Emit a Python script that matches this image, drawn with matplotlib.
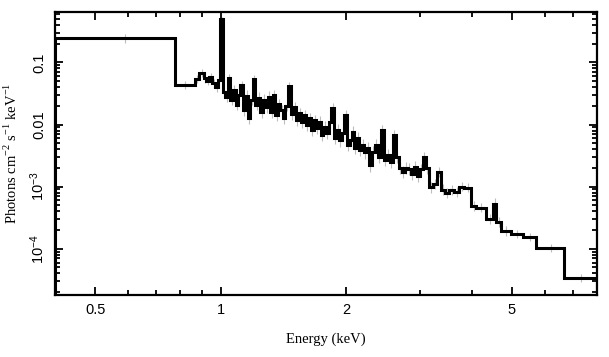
import matplotlib
matplotlib.use("Agg")
import matplotlib.pyplot as plt
from matplotlib.ticker import FixedLocator, NullFormatter

# Spectrum bins (keV) and unfolded flux (photons cm^-2 s^-1 keV^-1)
edges = [0.40, 0.778, 0.865, 0.889, 0.909, 0.924, 0.939, 0.955, 0.971, 0.987,
         0.998, 1.012, 1.026, 1.041, 1.055, 1.070, 1.085, 1.100, 1.115, 1.131,
         1.146, 1.162, 1.178, 1.195, 1.211, 1.228, 1.245, 1.263, 1.280, 1.298,
         1.316, 1.335, 1.353, 1.372, 1.391, 1.410, 1.430, 1.450, 1.474, 1.495,
         1.516, 1.537, 1.558, 1.580, 1.602, 1.624, 1.647, 1.670, 1.693, 1.716,
         1.740, 1.764, 1.789, 1.814, 1.839, 1.870, 1.896, 1.922, 1.949, 1.976,
         2.009, 2.037, 2.060, 2.089, 2.118, 2.147, 2.177, 2.207, 2.238, 2.269,
         2.301, 2.339, 2.379, 2.418, 2.459, 2.500, 2.542, 2.584, 2.627, 2.671,
         2.716, 2.761, 2.807, 2.854, 2.902, 2.951, 3.000, 3.050, 3.101, 3.153,
         3.224, 3.296, 3.369, 3.444, 3.540, 3.638, 3.741, 3.846, 3.99, 4.10,
         4.34, 4.50, 4.58, 4.71, 4.98, 5.31, 5.72, 6.68, 8.0]

flux = [0.246, 0.043, 0.054, 0.067, 0.056, 0.050, 0.058, 0.046, 0.040, 0.052,
        0.50, 0.033, 0.028, 0.056, 0.025, 0.036, 0.021, 0.030, 0.043, 0.017,
        0.029, 0.0127, 0.025, 0.054, 0.021, 0.027, 0.016, 0.025, 0.019, 0.028,
        0.016, 0.030, 0.0142, 0.0214, 0.0171, 0.0127, 0.020, 0.0415, 0.0147, 0.019,
        0.0118, 0.0152, 0.0110, 0.0142, 0.0098, 0.0127, 0.0082, 0.0118, 0.0088, 0.0110,
        0.0068, 0.0091, 0.0073, 0.0110, 0.0184, 0.0061, 0.0082, 0.0056, 0.0073, 0.0142,
        0.0047, 0.0056, 0.0076, 0.0042, 0.0061, 0.0039, 0.0047, 0.0036, 0.0042, 0.0022,
        0.0036, 0.0047, 0.0030, 0.0082, 0.0027, 0.0032, 0.0025, 0.0068, 0.0030, 0.0020,
        0.0017, 0.0020, 0.0019, 0.0016, 0.0021, 0.0015, 0.0019, 0.0030, 0.0020, 0.00097,
        0.0011, 0.0017, 0.00089, 0.00079, 0.00089, 0.00083, 0.0010, 0.00096, 0.00049, 0.00046,
        0.00030, 0.00053, 0.00027, 0.000194, 0.000174, 0.000156, 0.000104, 3.4e-5]

# fractional 1-sigma errors per bin
rel_err = [0.18, 0.16, 0.17, 0.16, 0.18, 0.17, 0.18, 0.17, 0.18, 0.17,
           0.08, 0.22, 0.22, 0.18, 0.22, 0.20, 0.23, 0.22, 0.18, 0.23,
           0.22, 0.25, 0.22, 0.18, 0.23, 0.22, 0.25, 0.22, 0.23, 0.22,
           0.25, 0.22, 0.25, 0.22, 0.23, 0.25, 0.22, 0.18, 0.25, 0.23,
           0.25, 0.23, 0.25, 0.23, 0.25, 0.23, 0.27, 0.23, 0.25, 0.23,
           0.27, 0.25, 0.25, 0.23, 0.20, 0.27, 0.25, 0.27, 0.25, 0.20,
           0.27, 0.25, 0.23, 0.27, 0.25, 0.27, 0.25, 0.27, 0.25, 0.28,
           0.25, 0.23, 0.25, 0.20, 0.27, 0.25, 0.27, 0.20, 0.25, 0.25,
           0.25, 0.23, 0.25, 0.25, 0.23, 0.25, 0.23, 0.20, 0.23, 0.23,
           0.22, 0.20, 0.22, 0.20, 0.20, 0.20, 0.19, 0.19, 0.20, 0.19,
           0.20, 0.22, 0.22, 0.19, 0.17, 0.17, 0.16, 0.16]

xticks = [0.5, 1, 2, 5]
xtick_labels = ["0.5", "1", "2", "5"]
yticks = [1e-4, 1e-3, 0.01, 0.1]
ytick_labels = [r"$\mathsf{10^{-4}}$", r"$\mathsf{10^{-3}}$", "0.01", "0.1"]

plt.rcParams["mathtext.fontset"] = "custom"
plt.rcParams["mathtext.rm"] = "Liberation Serif"
plt.rcParams["mathtext.sf"] = "Liberation Sans"
plt.rcParams["font.family"] = "Liberation Sans"

fig = plt.figure(figsize=(6.09, 3.57), dpi=100)
ax = fig.add_axes([0.0903, 0.1737, 0.8900, 0.7927])

centers = [(edges[i] + edges[i + 1]) / 2 for i in range(len(flux))]
lo = [f - f / (1 + e) for f, e in zip(flux, rel_err)]
hi = [f * e for f, e in zip(flux, rel_err)]
ax.errorbar(centers, flux, yerr=[lo, hi], fmt="none", ecolor="#bdbdbd",
            elinewidth=0.8, capsize=0, zorder=1)
ax.stairs(flux, edges, color="black", linewidth=2.2, zorder=2)

ax.set_xscale("log")
ax.set_yscale("log")
ax.set_xlim(0.4, 8.0)
ax.set_ylim(1.8e-5, 0.65)

ax.xaxis.set_major_locator(FixedLocator(xticks))
ax.set_xticklabels(xtick_labels)
ax.xaxis.set_minor_locator(FixedLocator([0.4, 0.6, 0.7, 0.8, 0.9, 3, 4, 6, 7, 8]))
ax.xaxis.set_minor_formatter(NullFormatter())
ax.yaxis.set_major_locator(FixedLocator(yticks))
ax.set_yticklabels(ytick_labels, rotation=90, va="center")
ax.yaxis.set_minor_locator(FixedLocator(
    [k * 10.0 ** p for p in range(-5, 0) for k in range(2, 10)]))
ax.yaxis.set_minor_formatter(NullFormatter())

ax.tick_params(which="both", direction="in", top=True, right=True, width=1.3,
               labelsize=10.5)
ax.tick_params(which="major", length=6, pad=6)
ax.tick_params(which="minor", length=3.5)
for s in ax.spines.values():
    s.set_linewidth(1.6)

ax.set_xlabel("Energy (keV)", family="Liberation Serif", fontsize=10.5,
              labelpad=11)
ax.set_ylabel(r"Photons cm$^{-2}$ s$^{-1}$ keV$^{-1}$",
              family="Liberation Serif", fontsize=10.5, labelpad=6)

fig.savefig("out.png", dpi=100)
